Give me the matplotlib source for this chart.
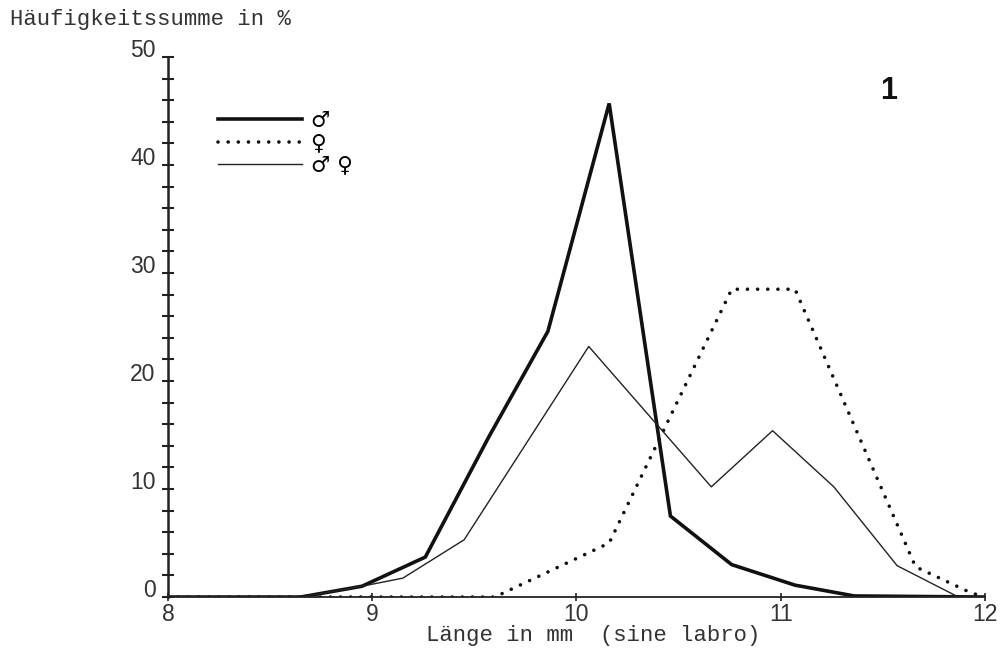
import matplotlib
matplotlib.use("Agg")
import matplotlib.pyplot as plt

#%% Daten
x_m = [8.0, 8.65, 8.95, 9.26, 9.57, 9.86, 10.16, 10.46, 10.76, 11.07, 11.36, 12.0]
y_m = [0.0, 0.0, 1.0, 3.7, 14.8, 24.6, 45.7, 7.5, 3.0, 1.1, 0.1, 0.0]

x_w = [8.0, 9.6, 10.16, 10.76, 11.07, 11.66, 11.93, 12.0]
y_w = [0.0, 0.0, 5.0, 28.5, 28.5, 2.8, 0.4, 0.0]

x_mw = [8.0, 8.65, 8.95, 9.15, 9.45, 10.06, 10.66, 10.96, 11.26, 11.57, 11.87, 12.0]
y_mw = [0.0, 0.0, 1.0, 1.75, 5.3, 23.2, 10.2, 15.4, 10.2, 2.9, 0.0, 0.0]

labels = ['♂', '♀', '♂ ♀']
x_ticks = [8, 9, 10, 11, 12]
y_ticks = [0, 10, 20, 30, 40, 50]

font_mono = 'Liberation Mono'
font_num = 'Liberation Sans'

#%% Plot
fig = plt.figure(figsize=(10.01, 6.55), dpi=100)
ax = fig.add_axes([0.1678, 0.0885, 0.8162, 0.8245])

ax.plot(x_m, y_m, color='#111111', lw=2.6, label=labels[0], solid_joinstyle='miter')
ax.plot(x_w, y_w, color='#111111', lw=2.6, linestyle=(0, (0.01, 2.8)),
        dash_capstyle='round', label=labels[1])
ax.plot(x_mw, y_mw, color='#222222', lw=1.0, label=labels[2])

ax.set_xlim(8, 12)
ax.set_ylim(0, 50)

# Achsen wie im Original: nur links und unten
for s in ['top', 'right']:
    ax.spines[s].set_visible(False)
ax.spines['left'].set_linewidth(1.8)
ax.spines['bottom'].set_linewidth(1.3)
ax.spines['left'].set_color('#222222')
ax.spines['bottom'].set_color('#222222')

ax.set_xticks(x_ticks)
ax.set_yticks(y_ticks)
ax.set_yticks(range(0, 51, 2), minor=True)
ax.tick_params(axis='y', which='both', direction='inout', length=8, width=1.5,
               color='#222222', pad=5)
ax.tick_params(axis='x', which='major', direction='inout', length=6, width=1.2,
               color='#222222', pad=1)
ax.set_xticklabels([str(v) for v in x_ticks], fontfamily=font_num, fontsize=16.5, color='#333333')
ax.set_yticklabels([str(v) for v in y_ticks], fontfamily=font_num, fontsize=16.5, color='#333333')
for lbl in ax.get_yticklabels():
    lbl.set_verticalalignment('baseline')

ax.set_xlabel('Länge in mm  (sine labro)', fontfamily=font_mono, fontsize=16, color='#333333')
ax.xaxis.set_label_coords(0.52, -0.052)
fig.text(0.01, 0.962, 'Häufigkeitssumme in %', fontfamily=font_mono, fontsize=16,
         color='#333333', va='baseline')

ax.text(11.53, 46.85, '1', fontfamily=font_num, fontweight='bold', fontsize=22,
        ha='center', va='center', color='#111111')

leg = ax.legend(loc='upper left', bbox_to_anchor=(8.245, 45.0), bbox_transform=ax.transData,
                frameon=False, fontsize=15.5, handlelength=3.9, handletextpad=0.4,
                labelspacing=0.1, borderpad=0, borderaxespad=0)

fig.savefig('out.png', dpi=100)
